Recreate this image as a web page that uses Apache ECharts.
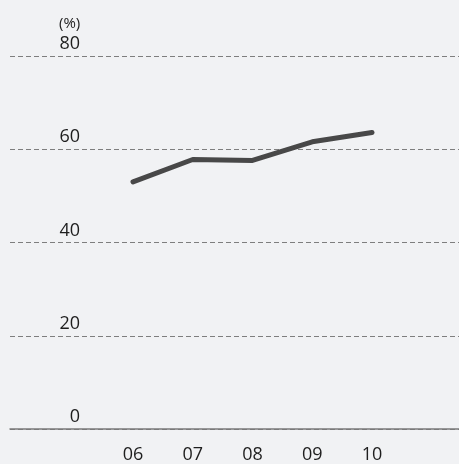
<!DOCTYPE html>
<html>
<head>
<meta charset="utf-8">
<script src="https://cdn.jsdelivr.net/npm/echarts@6/dist/echarts.min.js"></script>
<style>
  html, body { margin: 0; padding: 0; background: #f1f2f4; }
  #chart { width: 459px; height: 464px; }
</style>
</head>
<body>
<div id="chart"></div>
<script>
var years = ['06', '07', '08', '09', '10'];
var rates = [53.0, 57.8, 57.6, 61.6, 63.6];
var yTicks = [0, 20, 40, 60, 80];

var myChart = echarts.init(document.getElementById('chart'));
var option = {
    backgroundColor: '#f1f2f4',
    textStyle: { fontFamily: 'Open Sans' },
    title: {
        text: '(%)',
        left: 54,
        top: 11,
        textStyle: { fontSize: 15, fontWeight: 'normal', color: '#222', fontFamily: 'Open Sans' }
    },
    grid: [
        // full width grid for the dashed lines and base axis
        { left: 10, right: 0, top: 56, bottom: 35 },
        // data grid, narrower so points sit under the labels
        { left: 133, right: 87, top: 56, bottom: 35 }
    ],
    xAxis: [
        {
            gridIndex: 0,
            type: 'value',
            min: 0, max: 1,
            axisLine: { show: true, onZero: false, lineStyle: { color: '#7a7a7a', width: 1.5 } },
            axisTick: { show: false },
            axisLabel: { show: false },
            splitLine: { show: false }
        },
        {
            gridIndex: 1,
            type: 'category',
            boundaryGap: false,
            data: years,
            axisLine: { show: false },
            axisTick: { show: false },
            axisLabel: { color: '#1e1e1e', fontSize: 18, margin: 17, fontFamily: 'Open Sans' },
            splitLine: { show: false }
        }
    ],
    yAxis: [
        {
            gridIndex: 0,
            type: 'value',
            min: yTicks[0],
            max: yTicks[yTicks.length - 1],
            interval: 20,
            axisLine: { show: false },
            axisTick: { show: false },
            axisLabel: {
                inside: true,
                margin: 70,
                align: 'right',
                verticalAlign: 'bottom',
                padding: [0, 0, 3, 0],
                color: '#1e1e1e',
                fontSize: 18,
                fontFamily: 'Open Sans'
            },
            splitLine: { show: true, lineStyle: { color: '#7e7e7e', type: [5, 3], width: 1 } }
        },
        {
            gridIndex: 1,
            type: 'value',
            min: 0, max: 80,
            show: false
        }
    ],
    series: [
        {
            type: 'line',
            xAxisIndex: 1,
            yAxisIndex: 1,
            data: rates,
            showSymbol: false,
            symbol: 'none',
            lineStyle: { color: '#484848', width: 5, cap: 'round', join: 'round' },
            animation: false
        }
    ]
};
myChart.setOption(option);
</script>
</body>
</html>
